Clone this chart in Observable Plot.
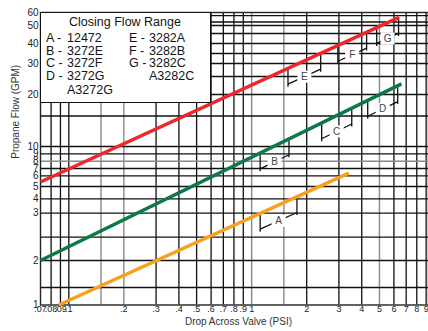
<!DOCTYPE html>
<html><head><meta charset="utf-8">
<script src="https://cdn.jsdelivr.net/npm/d3@7"></script>
<script src="https://cdn.jsdelivr.net/npm/@observablehq/plot@0.6"></script>
<style>
body{margin:0;background:#fff;font-family:Arial,"Liberation Sans",sans-serif;}
#wrap{position:relative;width:428px;height:331px;overflow:hidden;}
#legend{position:absolute;left:40px;top:12px;width:171px;height:91px;background:#fff;border:1px solid #111;box-sizing:border-box;color:#141414;font-size:12.5px;}
#legend span{position:absolute;white-space:nowrap;line-height:1;}
</style></head><body><div id="wrap"></div>
<script>
// Curves (start and end points)
const seriesColors = ["#ef262b", "#0b7a46", "#f8a01c"];
const startPsi = [0.07, 0.07, 0.088];
const startGpm = [5.4, 2.0, 1.0];
const endPsi = [6.4, 6.6, 3.4];
const endGpm = [56, 22.8, 6.35];

// Closing-flow brackets
const bracketLetters = ["A", "B", "C", "D", "E", "F", "G"];
const bracketSeries = [2, 1, 1, 1, 0, 0, 0];
const bracketFrom = [1.12, 1.12, 2.43, 4.34, 1.59, 2.98, 4.86];
const bracketTo = [1.78, 1.61, 3.55, 6.33, 2.40, 4.28, 6.4];

// Legend
const legendTitle = "Closing Flow Range";
const legendCol1Letters = ["A -", "B -", "C -", "D -", ""];
const legendCol1Models = ["12472", "3272E", "3272F", "3272G", "A3272G"];
const legendCol2Letters = ["E -", "F -", "G -", ""];
const legendCol2Models = ["3282A", "3282B", "3282C", "A3282C"];

// Axes
const xTitle = "Drop Across Valve (PSI)";
const yTitle = "Propane Flow (GPM)";
const xTickValues = [0.07, 0.08, 0.09, 0.1, 0.2, 0.3, 0.4, 0.5, 0.6, 0.7, 0.8, 0.9, 1, 2, 3, 4, 5, 6, 7, 8, 9, 10];
const xTickLabels = [".07", ".08", ".09", ".1", ".2", ".3", ".4", ".5", ".6", ".7", ".8", ".9", "1", "2", "3", "4", "5", "6", "7", "8", "9", "10"];
const yTickValues = [1, 2, 3, 4, 5, 6, 7, 8, 9, 10, 20, 30, 40, 50, 60];
const xGridDark = [0.08, 0.09, 0.1, 0.3, 0.4, 0.5, 0.6, 0.7, 0.8, 0.9, 2, 3, 4, 6, 7, 8, 9];
const xGridLight = [0.15, 0.2, 1, 1.5, 5];
const yGridDark = [1.5, 2, 2.5, 3, 4, 5, 6, 7, 9, 10, 15, 20, 25, 30, 35, 40, 45, 50, 52.5, 57.5];
const yGridLight = [8];

// The scanned chart's vertical axis is not a uniform log scale: piecewise log knots
const yKnots = [1, 1.5, 2, 2.5, 3, 4, 5, 6, 7, 8, 9, 10, 15, 20, 25, 30, 35, 40, 45, 50, 60];
const yKnotPx = [304.5, 287, 260, 236.7, 212.7, 198.3, 186, 175.3, 168, 160.7, 153.3, 146, 115.5, 94, 76, 63, 53, 43, 33, 25, 12];

const curves = seriesColors.map((c, i) => [
  {psi: startPsi[i], gpm: startGpm[i], s: i},
  {psi: endPsi[i], gpm: endGpm[i], s: i}
]);

function brackets(index, scales) {
  const {x, y} = scales;
  const g = d3.create("svg:g");
  bracketLetters.forEach((L, i) => {
    const s = bracketSeries[i];
    const x0 = x(startPsi[s]), y0 = y(startGpm[s]), x1 = x(endPsi[s]), y1 = y(endGpm[s]);
    const at = px => y0 + (px - x0) * (y1 - y0) / (x1 - x0);
    const a = x(bracketFrom[i]), b = x(bracketTo[i]);
    const ya = at(a), yb = at(b);
    const tick = 19, off = 16.5;
    g.append("path")
      .attr("d", `M${a},${ya}V${ya + tick}M${b},${yb}V${yb + tick}M${a},${ya + off}L${b},${yb + off}`)
      .attr("fill", "none").attr("stroke", "#111").attr("stroke-width", 1.3);
    const mx = (a + b) / 2, my = (ya + yb) / 2 + off;
    g.append("rect").attr("x", mx - 7).attr("y", my - 6).attr("width", 14).attr("height", 12).attr("fill", "#fff");
    g.append("text").attr("x", mx).attr("y", my).attr("dy", "0.35em")
      .attr("text-anchor", "middle").attr("font-size", 10).attr("fill", "#444")
      .attr("font-family", "Arial, 'Liberation Sans', sans-serif").text(L);
  });
  return g.node();
}

const chart = Plot.plot({
  width: 428,
  height: 331,
  marginLeft: 40,
  marginRight: 0,
  marginTop: 12,
  marginBottom: 26.5,
  style: {fontFamily: "Arial, 'Liberation Sans', sans-serif", fontSize: "10px", background: "#fff", color: "#222"},
  x: {type: "log", domain: [0.07, 10], range: [40, 434], axis: null},
  y: {type: "log", domain: yKnots, range: yKnotPx, axis: null},
  marks: [
    Plot.ruleX(xGridLight, {x: d => d, stroke: "#8a8a8a", strokeWidth: 1.4}),
    Plot.ruleX(xGridDark, {x: d => d, stroke: "#111", strokeWidth: 1.3}),
    Plot.ruleY(yGridLight, {y: d => d, stroke: "#8a8a8a", strokeWidth: 1.4}),
    Plot.ruleY(yGridDark, {y: d => d, stroke: "#111", strokeWidth: 1.3}),
    Plot.frame({stroke: "#222", strokeWidth: 1.4}),
    brackets,
    ...curves.map((c, i) => Plot.line(c, {x: "psi", y: "gpm", stroke: seriesColors[i], strokeWidth: 3.5, strokeLinecap: "butt"})),
    Plot.text(xTickValues, {x: d => d, text: (d, i) => xTickLabels[i], frameAnchor: "bottom", dy: 7, fontSize: 9, fill: "#222"}),
    Plot.text(yTickValues, {y: d => d, text: d => String(d), frameAnchor: "left", dx: -2, textAnchor: "end", fontSize: 10, fill: "#222"}),
    Plot.text([xTitle], {text: d => d, frameAnchor: "bottom", dy: 20, dx: 4, fontSize: 10, fill: "#333"}),
    Plot.text([yTitle], {text: d => d, frameAnchor: "left", dx: -25, rotate: -90, fontSize: 10, fill: "#333"})
  ]
});

const wrap = document.getElementById("wrap");
wrap.appendChild(chart);

const legend = document.createElement("div");
legend.id = "legend";
function addSpan(text, left, centerY, extra) {
  const s = document.createElement("span");
  s.textContent = text;
  s.style.left = left + "px";
  s.style.top = (centerY - 6.5) + "px";
  if (extra) Object.assign(s.style, extra);
  legend.appendChild(s);
}
addSpan(legendTitle, 84, 9.5, {transform: "translateX(-50%)"});
const rowY = [25, 38, 50, 63, 77];
legendCol1Letters.forEach((t, i) => { if (t) addSpan(t, 5, rowY[i]); addSpan(legendCol1Models[i], 26, rowY[i]); });
legendCol2Letters.forEach((t, i) => { if (t) addSpan(t, 88, rowY[i]); addSpan(legendCol2Models[i], 108, rowY[i]); });
wrap.appendChild(legend);
</script></body></html>
